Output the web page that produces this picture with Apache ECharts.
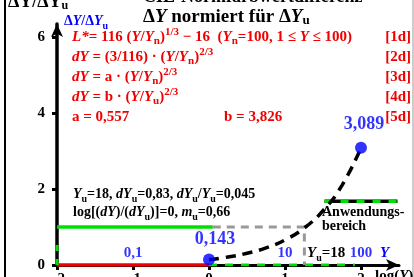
<!DOCTYPE html>
<html>
<head>
<meta charset="utf-8">
<script src="https://cdn.jsdelivr.net/npm/echarts@6/dist/echarts.min.js"></script>
<style>
  html, body { margin: 0; padding: 0; background: #fff; }
  #chart { width: 414px; height: 277px; }
</style>
</head>
<body>
<div id="chart"></div>
<script>
  // axis ticks
  const xTicks = [-2, -1, 0, 1, 2]
  const yTicks = [0, 2, 4, 6]
  // curve dY/dYu over log(Y)
  const logY = [0, 0.25, 0.5, 0.75, 1, 1.25, 1.5, 1.75, 2]
  const dYrel = [0.143, 0.21, 0.31, 0.45, 0.66, 0.97, 1.43, 2.10, 3.089]
  // end points with values
  const dotX = [0, 2]
  const dotY = [0.143, 3.089]
  const dotLabels = ['0,143', '3,089']
  // Y scale labels (blue) above the log axis
  const scaleX = [-1, 1, 2]
  const scaleLabels = ['0,1', '10', '100']
  // helper lines
  const redLine = [[-2, 0], [0, 0]]
  const greenLine = [[-2, 1], [0.05, 1]]
  const greyLine = [[0.05, 1], [1.255, 1], [1.255, 0]]
  const axisGreen = [[0, 0], [1.92, 0]]
  const yAxisGreen = [[-2, 0], [-2, 0.55]]
  const rangeLine = [[1.52, 1.68], [2.48, 1.68]]

  const F = '"Liberation Serif", "Times New Roman", serif'
  const red = '#f00000'
  const blue = '#0000ff'

  function st(size, italic, color) {
    return { fontFamily: F, fontWeight: 'bold', fontStyle: italic ? 'italic' : 'normal', fontSize: size, lineHeight: 20, fill: color, color: color, verticalAlign: 'middle' }
  }
  function sup(size, color) {
    return { fontFamily: F, fontWeight: 'bold', fontSize: size, lineHeight: 8, fill: color, color: color, verticalAlign: 'top' }
  }
  function sub(size, color) {
    return { fontFamily: F, fontWeight: 'bold', fontSize: size, lineHeight: 8, fill: color, color: color, verticalAlign: 'bottom' }
  }
  const redRich = { n: st(15, false, red), i: st(15, true, red), p: sup(11, red), b: sub(11, red) }
  const blkRich = { n: st(14, false, '#000'), i: st(14, true, '#000'), p: sup(10, '#000'), b: sub(10, '#000') }

  function txt(x, y, text, rich, align) {
    return { type: 'text', x: x, y: y, style: { text: text, rich: rich, align: align || 'left', verticalAlign: 'middle' }, z: 100 }
  }

  let chart = echarts.init(document.getElementById('chart'), null, { renderer: 'canvas' })
  let option = {
    animation: false,
    backgroundColor: '#fff',
    grid: { left: 57, right: 15, top: 24, bottom: 12, containLabel: false, outerBoundsMode: 'none' },
    xAxis: {
      type: 'value', min: -2, max: 2.5, interval: 1,
      splitLine: { show: false },
      axisLine: { onZero: false, symbol: ['none', 'arrow'], symbolSize: [9, 13], lineStyle: { color: '#000', width: 3 } },
      axisTick: { customValues: xTicks, length: 5, lineStyle: { color: '#000', width: 3 } },
      axisLabel: { customValues: xTicks, margin: 7, color: '#000', fontFamily: F, fontWeight: 'bold', fontSize: 15, formatter: v => String(v).replace('-', '−') }
    },
    yAxis: {
      type: 'value', min: 0, max: 6.35, interval: 2,
      splitLine: { show: false },
      axisLine: { onZero: false, symbol: ['none', 'arrow'], symbolSize: [9, 13], lineStyle: { color: '#000', width: 3.5 } },
      axisTick: { customValues: yTicks, length: 5, lineStyle: { color: '#000', width: 3 } },
      axisLabel: { customValues: yTicks, margin: 12, color: '#000', fontFamily: F, fontWeight: 'bold', fontSize: 15 }
    },
    series: [
      { type: 'line', data: redLine, symbol: 'none', lineStyle: { color: red, width: 3.5 }, z: 3 },
      { type: 'line', data: greenLine, symbol: 'none', lineStyle: { color: '#00e000', width: 3.5 }, z: 3 },
      { type: 'line', data: greyLine, symbol: 'none', lineStyle: { color: '#999', width: 3, type: [8, 6] }, z: 3 },
      { type: 'line', data: axisGreen, symbol: 'none', lineStyle: { color: '#00e000', width: 3, type: [8, 8] }, z: 4 },
      { type: 'line', data: yAxisGreen, symbol: 'none', lineStyle: { color: '#00e000', width: 3, type: [6, 8] }, z: 4 },
      { type: 'line', data: rangeLine, symbol: 'none', lineStyle: { color: '#000', width: 3.5 }, z: 3 },
      { type: 'line', data: rangeLine, symbol: 'none', lineStyle: { color: '#00e000', width: 3.5, type: [8, 8] }, z: 4 },
      {
        type: 'line', data: logY.map((x, i) => [x, dYrel[i]]), symbol: 'none', smooth: true,
        lineStyle: { color: '#000', width: 3.5, type: [10, 7] }, z: 5
      },
      {
        type: 'scatter', data: dotX.map((x, i) => [x, dotY[i]]), symbolSize: 12, itemStyle: { color: blue }, z: 6,
        label: {
          show: true, color: blue, fontFamily: F, fontWeight: 'bold', fontSize: 18,
          formatter: p => dotLabels[p.dataIndex],
          position: 'top', distance: 4
        },
        labelLayout: p => p.dataIndex === 1 ? { dx: 3, dy: -4 } : { dx: 6, dy: -1 }
      },
      {
        type: 'scatter', data: scaleX.map(x => [x, 0]), symbolSize: 0, z: 6,
        label: {
          show: true, color: blue, fontFamily: F, fontWeight: 'bold', fontSize: 15,
          formatter: p => scaleLabels[p.dataIndex],
          position: 'top', distance: 4
        }
      }
    ],
    graphic: [
      { type: 'line', shape: { x1: 5, y1: 0, x2: 5, y2: 277 }, style: { stroke: '#000', lineWidth: 2 } },
      { type: 'line', shape: { x1: 413, y1: 0, x2: 413, y2: 277 }, style: { stroke: '#999', lineWidth: 1 } },
      // headings
      txt(8, 2, '{n|ΔY/ΔY}{b|u}', { n: st(18, false, '#000'), b: sub(12, '#000') }),
      { type: 'text', x: 143, y: -3, style: { text: 'CIE-Normfarbwertdifferenz', fontFamily: F, fontWeight: 'bold', fontSize: 18, fill: '#000', verticalAlign: 'middle' }, z: 100 },
      txt(143, 17, '{n|Δ}{i|Y}{n| normiert für Δ}{i|Y}{b|u}', { n: st(19, false, '#000'), i: st(19, true, '#000'), b: sub(13, '#000') }),
      txt(64, 21, '{n|Δ}{i|Y}{n|/Δ}{i|Y}{b|u}', { n: st(14, false, blue), i: st(14, true, blue), b: sub(10, blue) }),
      // formulas
      txt(72, 37, '{i|L*}{n|= 116 (}{i|Y}{n|/}{i|Y}{b|n}{n|)}{p|1/3}{n| − 16  (}{i|Y}{b|n}{n|=100, 1 ≤ }{i|Y}{n| ≤ 100)}', redRich),
      txt(72, 57, '{i|dY}{n| = (3/116) · (}{i|Y}{n|/}{i|Y}{b|n}{n|)}{p|2/3}', redRich),
      txt(72, 77, '{i|dY}{n| = a · (}{i|Y}{n|/}{i|Y}{b|n}{n|)}{p|2/3}', redRich),
      txt(72, 97, '{i|dY}{n| = b · (}{i|Y}{n|/}{i|Y}{b|u}{n|)}{p|2/3}', redRich),
      txt(72, 117, '{n|a = 0,557}', redRich),
      txt(224, 117, '{n|b = 3,826}', redRich),
      txt(411, 37, '{n|[1d]}', redRich, 'right'),
      txt(411, 57, '{n|[2d]}', redRich, 'right'),
      txt(411, 77, '{n|[3d]}', redRich, 'right'),
      txt(411, 97, '{n|[4d]}', redRich, 'right'),
      txt(411, 117, '{n|[5d]}', redRich, 'right'),
      // black notes
      txt(73, 194, '{i|Y}{b|u}{n|=18, }{i|dY}{b|u}{n|=0,83, }{i|dY}{b|u}{n|/}{i|Y}{b|u}{n|=0,045}', blkRich),
      txt(73, 212, '{n|log[(}{i|dY}{n|)/(}{i|dY}{b|u}{n|)]=0, }{i|m}{b|u}{n|=0,66}', blkRich),
      txt(322, 212, '{n|Anwendungs-}', blkRich),
      txt(322, 226, '{n|bereich}', blkRich),
      txt(307, 253, '{i|Y}{b|u}{n|=18}', { n: st(15, false, '#000'), i: st(15, true, '#000'), b: sub(10, '#000') }),
      txt(380, 253, '{i|Y}', { i: st(15, true, blue) }),
      txt(375, 276, '{n|log(}{i|Y}{n|)}', { n: st(15, false, '#000'), i: st(15, true, '#000') })
    ]
  }
  chart.setOption(option)
</script>
</body>
</html>
